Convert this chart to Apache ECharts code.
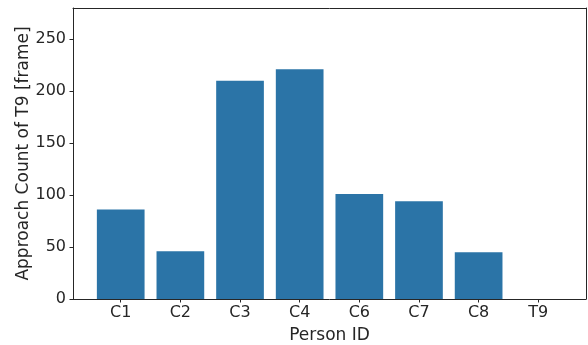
<!DOCTYPE html>
<html>
<head>
<meta charset="utf-8">
<script src="https://cdn.jsdelivr.net/npm/echarts@6/dist/echarts.min.js"></script>
<style>html,body{margin:0;padding:0;background:#fff}#c{width:588px;height:345px}</style>
</head>
<body>
<div id="c"></div>
<script>
const categories = ['C1','C2','C3','C4','C6','C7','C8','T9'];
const values = [86, 46, 210, 221, 101, 94, 45, 0];
const yTicks = [0, 50, 100, 150, 200, 250];
const xLabel = 'Person ID';
const yLabel = 'Approach Count of T9 [frame]';

const chart = echarts.init(document.getElementById('c'), null, {renderer: 'canvas'});
const font = 'DejaVu Sans';
const txt = '#262626';
const axisLine = {show: true, onZero: false, lineStyle: {color: '#262626', width: 1}};
chart.setOption({
  animation: false,
  grid: {left: 73, top: 8, right: 2, bottom: 46, containLabel: false, outerBoundsMode: 'none'},
  xAxis: [{
    type: 'value', min: -0.8, max: 7.8,
    name: xLabel, nameLocation: 'middle', nameGap: 28, nameMoveOverlap: false,
    nameTextStyle: {fontFamily: font, fontSize: 17, color: txt},
    axisLine: axisLine,
    axisTick: {show: true, length: 3.5, inside: false, customValues: categories.map((c, i) => i), lineStyle: {color: '#262626'}},
    axisLabel: {customValues: categories.map((c, i) => i), formatter: v => categories[Math.round(v)] || '', fontFamily: font, fontSize: 16, color: txt, margin: 6},
    splitLine: {show: false}
  }, {
    type: 'value', position: 'top', min: -0.8, max: 7.8,
    axisLine: axisLine, axisTick: {show: false}, axisLabel: {show: false}, splitLine: {show: false}
  }],
  yAxis: [{
    type: 'value', min: 0, max: 280,
    name: yLabel, nameLocation: 'middle', nameGap: 41, nameMoveOverlap: false,
    nameTextStyle: {fontFamily: font, fontSize: 17, color: txt},
    axisLine: axisLine,
    axisTick: {show: true, length: 3.5, customValues: yTicks, lineStyle: {color: '#262626'}},
    axisLabel: {customValues: yTicks, fontFamily: font, fontSize: 16, color: txt, margin: 7},
    splitLine: {show: false}
  }, {
    type: 'value', position: 'right', min: 0, max: 280,
    axisLine: axisLine, axisTick: {show: false}, axisLabel: {show: false}, splitLine: {show: false}
  }],
  series: [{
    type: 'bar',
    data: values.map((v, i) => [i, v]),
    barWidth: 47.7,
    itemStyle: {color: '#2b74a7'}
  }]
});
</script>
</body>
</html>
